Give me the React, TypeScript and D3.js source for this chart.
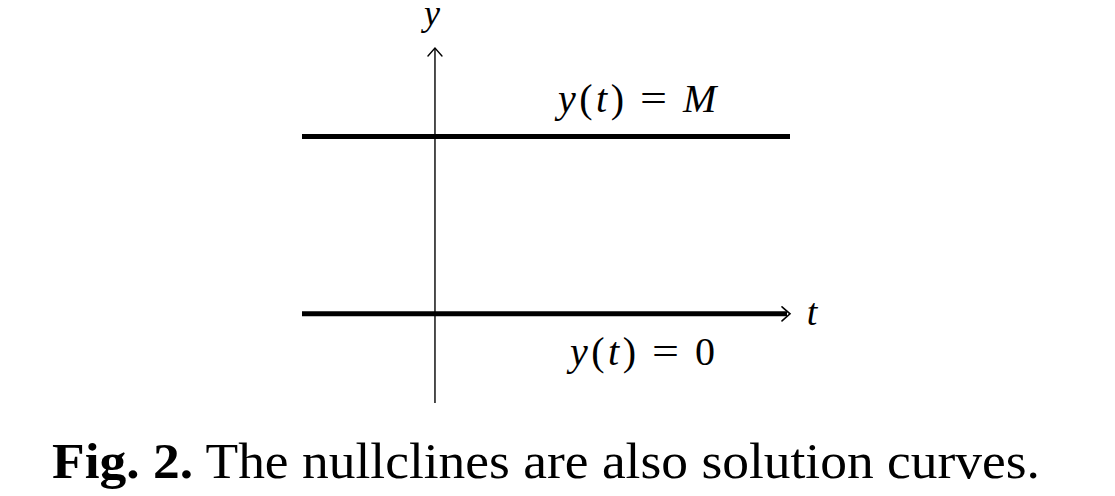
import * as d3 from 'd3';

const W = 1115;
const H = 496;

// domain of the diagram (t horizontally, y vertically, with M = 1)
const tDomain: [number, number] = [-1, 2.67];
const yDomain: [number, number] = [-0.503, 1.5];

const nullclines = [
  { value: 1, name: 'M', left: 558 },
  { value: 0, name: '0', left: 570 },
];

const captionBold = 'Fig. 2.';
const captionText = ' The nullclines are also solution curves.';

const mathFont = '"Liberation Serif", "DejaVu Serif", serif';

export default function App() {
  const x = d3.scaleLinear().domain(tDomain).range([302, 790]);
  const y = d3.scaleLinear().domain(yDomain).range([403, 48]);

  const x0 = x(0);
  const yTop = y(yDomain[1]);
  const xEnd = x(tDomain[1]);

  const line = d3.line<[number, number]>().x(d => d[0]).y(d => d[1]);

  // LaTeX-style thin arrow heads
  const upHead = line([[x0 - 7, yTop + 8], [x0, yTop], [x0 + 7, yTop + 8]]);
  const rightHead = line([[xEnd - 8, y(0) - 7], [xEnd, y(0)], [xEnd - 8, y(0) + 7]]);

  return (
    <svg
      width={W}
      height={H}
      style={{ position: 'absolute', left: 0, top: 0, background: '#fff' }}
    >
      {/* y axis */}
      <line x1={x0} x2={x0} y1={y(yDomain[0])} y2={yTop} stroke="#000" strokeWidth={1.4} />
      <path d={upHead ?? ''} fill="none" stroke="#000" strokeWidth={1.4} strokeLinecap="round" />
      <text x={x0 - 3} y={yTop - 23} textAnchor="middle" fontFamily={mathFont} fontStyle="italic" fontSize={36}>
        y
      </text>

      {/* nullclines */}
      {nullclines.map(n => (
        <line
          key={n.name}
          x1={x(tDomain[0])}
          x2={n.value === 0 ? xEnd - 3 : xEnd}
          y1={y(n.value)}
          y2={y(n.value)}
          stroke="#000"
          strokeWidth={5}
        />
      ))}
      <path d={rightHead ?? ''} fill="none" stroke="#000" strokeWidth={1.6} strokeLinecap="round" />
      <text x={xEnd + 22} y={y(0) + 11} textAnchor="middle" fontFamily={mathFont} fontStyle="italic" fontSize={38}>
        t
      </text>

      {nullclines.map(n => {
        const base = n.value === 0 ? y(n.value) + 51 : y(n.value) - 25;
        return (
          <g key={'lbl' + n.name} fontFamily={mathFont} fontSize={40}>
            <text x={n.left} y={base} textLength={66} lengthAdjust="spacing">
              <tspan fontStyle="italic">y</tspan>
              <tspan>(</tspan>
              <tspan fontStyle="italic">t</tspan>
              <tspan>)</tspan>
            </text>
            <text x={n.left + 82} y={base} textLength={27} lengthAdjust="spacingAndGlyphs">=</text>
            <text x={n.left + 125} y={base} fontStyle={n.name === 'M' ? 'italic' : 'normal'}>
              {n.name}
            </text>
          </g>
        );
      })}

      {/* caption */}
      <text
        x={52}
        y={478}
        fontFamily={'"Liberation Serif", serif'}
        fontSize={50}
        textLength={988}
        lengthAdjust="spacingAndGlyphs"
      >
        <tspan fontWeight="bold">{captionBold}</tspan>
        <tspan>{captionText}</tspan>
      </text>
    </svg>
  );
}
